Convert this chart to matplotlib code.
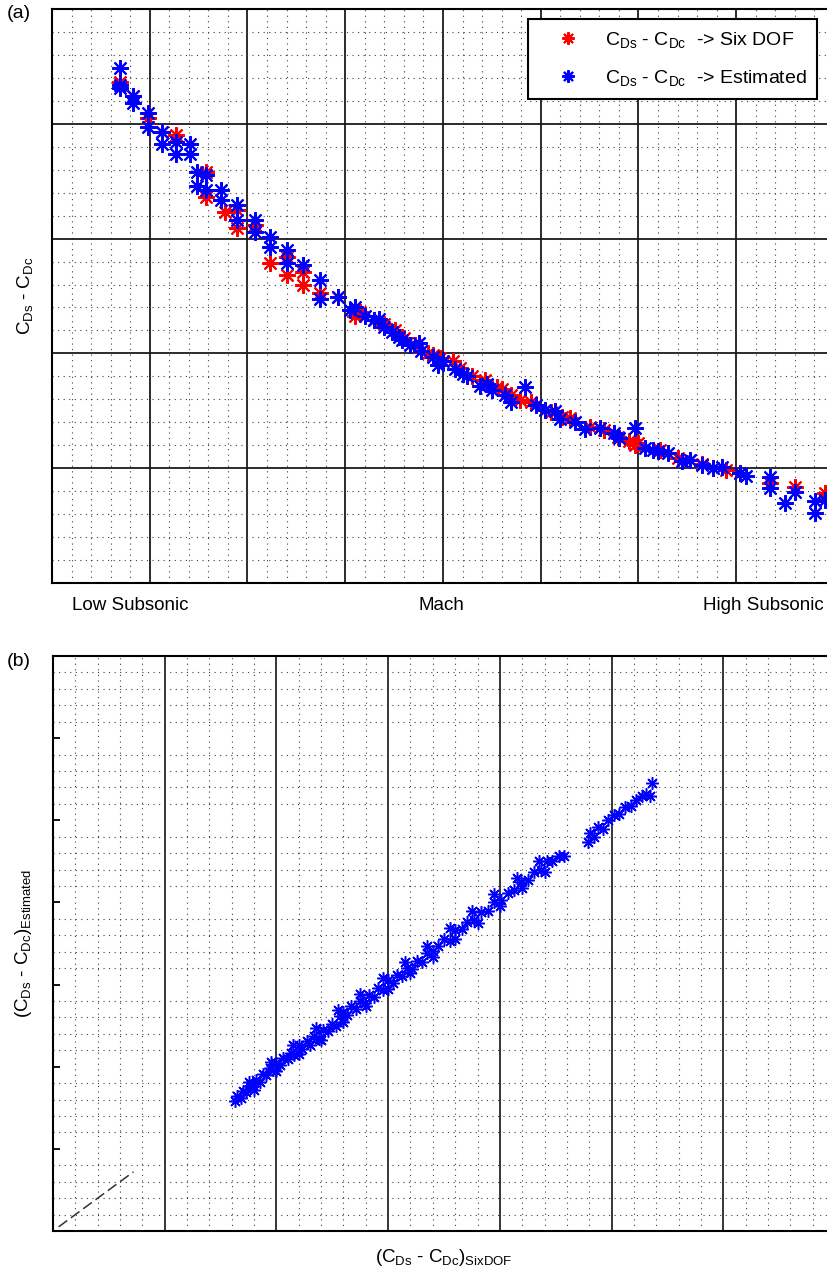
import numpy as np
import matplotlib.pyplot as plt

plt.rcParams['font.family'] = ['Liberation Sans', 'DejaVu Sans']
plt.rcParams['mathtext.default'] = 'regular'

# panel (a): Mach position (major grid units) and CDs - CDc (major grid units)
mach_six = [0.70, 0.83, 0.98, 1.13, 1.27, 1.58, 1.58, 1.77, 1.89, 1.89,
            2.08, 2.23, 2.40, 2.40, 2.57, 2.57, 2.74, 2.93, 3.10, 3.29,
            3.51, 3.71, 3.97, 4.17, 4.43, 4.55, 4.79, 5.04, 5.22, 5.50,
            5.79, 5.96, 6.22, 6.53, 6.76, 7.04, 7.35, 7.60, 7.91, 3.60,
            3.85, 4.30, 4.70, 5.10, 5.65, 6.40, 6.90, 3.15, 3.40, 3.90,
            4.10, 4.60, 4.90, 5.30, 5.90, 6.00, 6.65]
cd_six = [4.36, 4.24, 4.05, 3.93, 3.90, 3.58, 3.36, 3.23, 3.25, 3.09,
          3.12, 2.79, 2.84, 2.68, 2.71, 2.60, 2.53, 2.49, 2.33, 2.29,
          2.20, 2.07, 1.96, 1.87, 1.77, 1.71, 1.59, 1.51, 1.45, 1.36,
          1.27, 1.20, 1.16, 1.07, 1.00, 0.96, 0.87, 0.84, 0.78, 2.13,
          2.00, 1.80, 1.64, 1.49, 1.33, 1.09, 0.98, 2.36, 2.26, 1.99,
          1.93, 1.69, 1.58, 1.44, 1.24, 1.22, 1.04]

mach_est = [0.70, 0.70, 0.70, 0.83, 0.83, 0.98, 0.98, 1.13, 1.13, 1.27,
            1.27, 1.41, 1.41, 1.48, 1.48, 1.58, 1.58, 1.73, 1.73, 1.89,
            1.89, 2.08, 2.08, 2.23, 2.23, 2.40, 2.40, 2.57, 2.74, 2.74,
            2.93, 3.10, 3.29, 3.48, 3.66, 3.90, 4.12, 4.38, 4.63, 4.84,
            5.04, 5.35, 5.61, 5.96, 6.07, 6.30, 6.53, 6.76, 7.04, 7.35,
            7.35, 7.50, 7.60, 7.81, 7.81, 7.91, 3.20, 3.40, 3.58, 3.78,
            4.00, 4.25, 4.50, 4.95, 5.20, 5.80, 6.20, 6.65, 3.05, 3.35,
            3.55, 3.75, 3.95, 4.20, 4.45, 4.70, 5.15, 5.45, 5.75, 6.15,
            6.45, 6.85, 7.10]
cd_est = [4.49, 4.34, 4.31, 4.24, 4.18, 4.09, 3.97, 3.93, 3.82, 3.84,
          3.74, 3.82, 3.74, 3.58, 3.46, 3.55, 3.42, 3.42, 3.34, 3.29,
          3.16, 3.16, 3.06, 3.01, 2.93, 2.90, 2.79, 2.77, 2.64, 2.47,
          2.49, 2.40, 2.29, 2.19, 2.07, 1.97, 1.86, 1.72, 1.64, 1.71,
          1.51, 1.40, 1.35, 1.35, 1.18, 1.13, 1.07, 1.00, 0.96, 0.92,
          0.83, 0.70, 0.79, 0.71, 0.61, 0.72, 2.33, 2.23, 2.12, 2.02,
          1.93, 1.80, 1.68, 1.55, 1.43, 1.26, 1.15, 1.03, 2.38, 2.30,
          2.14, 2.09, 1.90, 1.82, 1.73, 1.58, 1.50, 1.34, 1.31, 1.16,
          1.06, 1.01, 0.93]

# panel (b): six DOF vs estimated (major grid units)
six_b = [1.63, 1.65, 1.68, 1.70, 1.73, 1.76, 1.79, 1.82, 1.85, 1.88,
         1.91, 1.94, 1.97, 2.00, 2.03, 2.06, 2.10, 2.13, 2.16, 2.20,
         2.23, 2.27, 2.30, 2.34, 2.38, 2.42, 2.46, 2.50, 2.53, 2.57,
         2.60, 2.63, 2.67, 2.71, 2.75, 2.79, 2.83, 2.87, 2.91, 2.95,
         3.00, 3.04, 3.08, 3.12, 3.17, 3.21, 3.26, 3.30, 3.35, 3.40,
         3.45, 3.50, 3.55, 3.60, 3.66, 3.71, 3.77, 3.83, 3.89, 3.95,
         4.01, 4.07, 4.13, 4.19, 4.25, 4.31, 4.37, 4.42, 4.47, 4.53,
         4.57, 4.79, 4.81, 4.84, 4.88, 4.92, 4.97, 5.02, 5.07, 5.12,
         5.17, 5.22, 5.27, 5.31, 5.34, 5.36,
         1.75, 1.95, 2.15, 2.35, 2.55, 2.75, 2.95, 3.15, 3.35, 3.55,
         3.75, 3.95, 4.15, 4.35, 1.80, 2.00, 2.20, 2.40, 2.60, 2.80,
         3.00, 3.20, 3.40, 3.60, 3.80, 4.00, 4.20, 4.40]
est_b = [1.58, 1.64, 1.62, 1.70, 1.69, 1.77, 1.76, 1.84, 1.82, 1.91,
         1.90, 1.99, 1.96, 2.05, 2.02, 2.11, 2.09, 2.17, 2.14, 2.26,
         2.22, 2.31, 2.27, 2.38, 2.34, 2.45, 2.43, 2.52, 2.50, 2.62,
         2.67, 2.63, 2.74, 2.70, 2.80, 2.78, 2.87, 2.85, 2.96, 2.93,
         3.05, 3.02, 3.12, 3.10, 3.20, 3.19, 3.29, 3.28, 3.39, 3.41,
         3.47, 3.55, 3.53, 3.66, 3.68, 3.76, 3.79, 3.88, 3.90, 4.00,
         4.03, 4.12, 4.15, 4.25, 4.27, 4.37, 4.40, 4.50, 4.50, 4.57,
         4.56, 4.74, 4.84, 4.80, 4.92, 4.90, 5.00, 5.06, 5.08, 5.16,
         5.18, 5.25, 5.30, 5.32, 5.30, 5.46,
         1.82, 2.06, 2.27, 2.47, 2.69, 2.88, 3.08, 3.27, 3.47, 3.69,
         3.90, 4.10, 4.30, 4.51, 1.72, 1.95, 2.15, 2.33, 2.55, 2.74,
         2.95, 3.14, 3.34, 3.55, 3.75, 3.96, 4.17, 4.37]
diag = [0.05, 0.72]

star = (8, 2, 0)
minor_ls = (0, (1, 4))
fs = 13.5

fig = plt.figure(figsize=(8.27, 12.73), dpi=100)

# ---- (a)
ax1 = fig.add_axes([52/827, 690/1273, 782/827, 574/1273])
ax1.set_xlim(0, 8)
ax1.set_ylim(0, 5)
ax1.set_xticks(np.arange(0, 9, 1))
ax1.set_xticks(np.arange(0, 8.01, 0.2), minor=True)
ax1.set_yticks(np.arange(0, 6, 1))
ax1.set_yticks(np.arange(0, 5.01, 0.2), minor=True)
ax1.grid(which='major', color='0.1', lw=1.3, ls='-')
ax1.grid(which='minor', color='0.25', lw=0.8, ls=minor_ls)
ax1.set_axisbelow(True)
ax1.tick_params(which='both', length=0, labelbottom=False, labelleft=False)
ax1.plot(mach_six, cd_six, ls='none', marker=star, ms=12, mew=1.5, color='red',
         label=r'C$_{Ds}$ - C$_{Dc}$  -> Six DOF')
ax1.plot(mach_est, cd_est, ls='none', marker=star, ms=12, mew=1.5, color='blue',
         label=r'C$_{Ds}$ - C$_{Dc}$  -> Estimated')
ax1.set_ylabel(r'C$_{Ds}$ - C$_{Dc}$', fontsize=fs, labelpad=12)
leg = ax1.legend(loc='upper left', bbox_to_anchor=(476/782, 1 - 10/574), fontsize=14,
                 fancybox=False, framealpha=1, edgecolor='black', markerscale=0.75,
                 borderaxespad=0, handlelength=3.0, handletextpad=0.4,
                 borderpad=0.55, labelspacing=0.95)
leg.get_frame().set_linewidth(1.5)
for s in ax1.spines.values():
    s.set_linewidth(1.5)
fig.text(130/827, 1 - 605/1273, 'Low Subsonic', ha='center', va='center', fontsize=fs)
fig.text(441/827, 1 - 605/1273, 'Mach', ha='center', va='center', fontsize=fs)
fig.text(763/827, 1 - 605/1273, 'High Subsonic', ha='center', va='center', fontsize=fs)
fig.text(7/827, 1 - 14/1273, '(a)', ha='left', va='center', fontsize=14)

# ---- (b)
ax2 = fig.add_axes([53/827, 42/1273, 782/827, 575/1273])
ax2.set_xlim(0, 7)
ax2.set_ylim(0, 7)
ax2.set_xticks(np.arange(0, 8, 1))
ax2.set_xticks(np.arange(0, 7.01, 0.2), minor=True)
ax2.set_yticks(np.arange(0, 8, 1))
ax2.set_yticks(np.arange(0, 7.01, 0.2), minor=True)
ax2.grid(which='major', axis='x', color='0.15', lw=1.3, ls='-')
ax2.grid(which='minor', color='0.25', lw=0.8, ls=minor_ls)
ax2.set_axisbelow(True)
ax2.tick_params(which='major', axis='y', direction='in', length=5, width=1.3, left=True)
ax2.tick_params(which='major', axis='x', length=0)
ax2.tick_params(which='minor', length=0)
ax2.tick_params(labelbottom=False, labelleft=False)
ax2.plot(diag, diag, color='0.2', lw=1.1, dashes=(7, 3))
ax2.plot(six_b, est_b, ls='none', marker=star, ms=9, mew=1.1, color='blue')
ax2.set_ylabel(r'(C$_{Ds}$ - C$_{Dc}$)$_{Estimated}$', fontsize=fs, labelpad=10)
ax2.set_xlabel(r'(C$_{Ds}$ - C$_{Dc}$)$_{SixDOF}$', fontsize=fs, labelpad=8)
for s in ax2.spines.values():
    s.set_linewidth(1.5)
fig.text(7/827, 1 - 662/1273, '(b)', ha='left', va='center', fontsize=14)

fig.savefig('out.png', dpi=100)
